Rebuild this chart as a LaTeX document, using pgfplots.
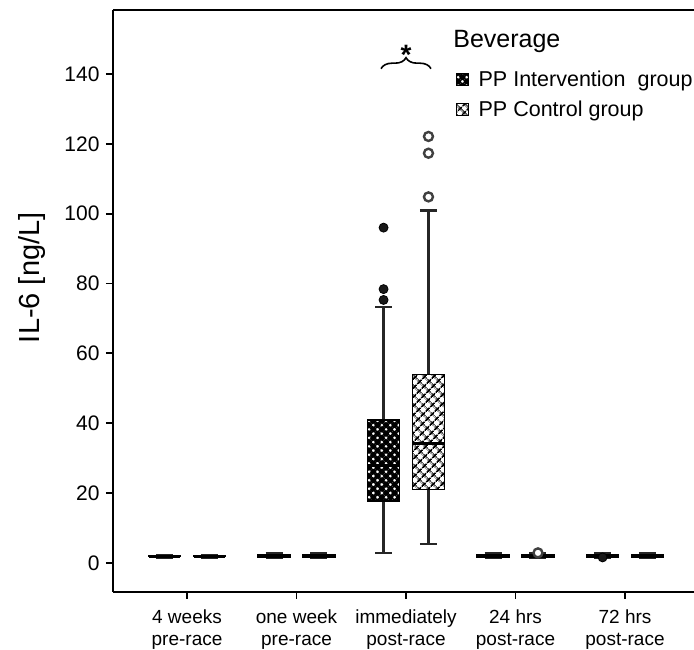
\documentclass[border=0pt]{standalone}
\usepackage{fontspec}
\setmainfont{Liberation Sans}
\usepackage{pgfplots}
\pgfplotsset{compat=1.18}
\usepgfplotslibrary{statistics}
\usetikzlibrary{patterns.meta, decorations.pathreplacing}

% hatched fills of the two beverage groups
\tikzset{
  intfill/.style={fill=white, postaction={pattern={Hatch[distance=6pt,angle=45,line width=3.6pt]}, pattern color=black}},
  ctlfill/.style={fill=white, postaction={pattern={Hatch[distance=6.5pt,angle=45,line width=1.7pt]}, pattern color=black}},
}
\pgfplotsset{
  boxplot/draw direction=y,
  intbp/.style={forget plot, black, solid, mark=*, mark size=4.5pt,
    mark options={fill=black!90, draw=black, line width=0.8pt},
    boxplot/draw direction=y,
    boxplot/box extend=0.29, boxplot/whisker extend=0.155,
    boxplot/every box/.style={draw=black, line width=1.5pt, intfill},
    boxplot/every median/.style={line width=3pt, black},
    boxplot/every whisker/.style={line width=2.2pt, black!85}},
  ctlbp/.style={forget plot, black, solid, mark=*, mark size=4.5pt,
    mark options={fill=white, draw=black!75, line width=2.4pt},
    boxplot/draw direction=y,
    boxplot/box extend=0.29, boxplot/whisker extend=0.155,
    boxplot/every box/.style={draw=black, line width=1.5pt, ctlfill},
    boxplot/every median/.style={line width=3pt, black},
    boxplot/every whisker/.style={line width=2.2pt, black!85}},
}

\begin{document}
\begin{tikzpicture}
\begin{axis}[
  name=ax, scale only axis, width=581pt, height=582pt,
  xmin=-0.676, xmax=4.63, ymin=-8.3, ymax=158.3,
  axis lines*=left, axis line style={line width=1.8pt},
  xtick={0,1,2,3,4},
  xticklabels={{4 weeks\\pre-race},{one week\\pre-race},{immediately\\post-race},{24 hrs\\post-race},{72 hrs\\post-race}},
  xticklabel style={align=center, font=\fontsize{19}{22.5}\selectfont, yshift=-7pt},
  ytick={0,20,...,140},
  yticklabel style={font=\fontsize{21}{25}\selectfont, xshift=-3pt},
  /pgf/number format/assume math mode=true,
  tick align=outside, major tick length=7pt, tick style={line width=1.8pt, black},
  ylabel={IL-6 [ng/L]},
  ylabel style={font=\fontsize{29}{33}\selectfont, at={(axis description cs:-0.139,0.54)}, anchor=center},
  clip=false,
  legend style={at={(axis cs:2.457,141.5)}, anchor=north west, draw=none, fill=none,
    font=\fontsize{21.5}{25}\selectfont, row sep=9pt, inner sep=0pt,
    nodes={inner xsep=0pt}},
  legend cell align=left,
]

% 4 weeks pre-race
\addplot[intbp, boxplot prepared={draw position=-0.205, lower whisker=1.6, lower quartile=1.8, median=2.0, upper quartile=2.2, upper whisker=2.4}] coordinates {};
\addplot[ctlbp, boxplot prepared={draw position=0.205, lower whisker=1.6, lower quartile=1.8, median=2.0, upper quartile=2.2, upper whisker=2.4}] coordinates {};
% one week pre-race
\addplot[intbp, boxplot prepared={draw position=0.795, lower whisker=1.4, lower quartile=1.7, median=2.0, upper quartile=2.4, upper whisker=2.8}] coordinates {};
\addplot[ctlbp, boxplot prepared={draw position=1.205, lower whisker=1.4, lower quartile=1.7, median=2.0, upper quartile=2.4, upper whisker=2.8}] coordinates {};
% immediately post-race
\addplot[intbp, boxplot prepared={draw position=1.795, lower whisker=2.9, lower quartile=17.8, median=28.0, upper quartile=40.9, upper whisker=73.2}] coordinates {(0,75.3) (0,78.4) (0,96.0)};
\addplot[ctlbp, boxplot prepared={draw position=2.205, lower whisker=5.4, lower quartile=21.1, median=34.1, upper quartile=54.0, upper whisker=100.9}] coordinates {(0,104.8) (0,117.3) (0,122.1)};
% 24 hrs post-race
\addplot[intbp, boxplot prepared={draw position=2.795, lower whisker=1.4, lower quartile=1.7, median=2.0, upper quartile=2.4, upper whisker=2.8}] coordinates {};
\addplot[ctlbp, boxplot prepared={draw position=3.205, lower whisker=1.4, lower quartile=1.7, median=2.0, upper quartile=2.4, upper whisker=2.8}] coordinates {(0,2.9)};
% 72 hrs post-race
\addplot[intbp, boxplot prepared={draw position=3.795, lower whisker=1.4, lower quartile=1.7, median=2.0, upper quartile=2.4, upper whisker=2.8}] coordinates {(0,1.6)};
\addplot[ctlbp, boxplot prepared={draw position=4.205, lower whisker=1.4, lower quartile=1.7, median=2.0, upper quartile=2.4, upper whisker=2.8}] coordinates {};

% legend swatches, padded so the text starts a little to their right
\addlegendimage{legend image code/.code={\draw[line width=0.8pt, intfill] (0pt,-6pt) rectangle (12pt,6pt); \path[draw=none, fill=none] (0pt,0pt) -- (22pt,0pt);}}
\addlegendentry{PP Intervention\ \ group}
\addlegendimage{legend image code/.code={\draw[line width=0.8pt, ctlfill] (0pt,-6pt) rectangle (12pt,6pt); \path[draw=none, fill=none] (0pt,0pt) -- (22pt,0pt);}}
\addlegendentry{PP Control group}

% frame line along the top
\draw[line width=1.8pt] (rel axis cs:0,1) -- (rel axis cs:1,1);
% significance bracket
\draw[line width=1.6pt, decorate, decoration={brace, amplitude=11pt}] (axis cs:1.772,141.5) -- (axis cs:2.228,141.5);
\node[anchor=base, font=\fontsize{28}{32}\selectfont\bfseries] at (axis cs:2.0,142.8) {*};
\node[anchor=west, font=\fontsize{25}{29}\selectfont] at (axis cs:2.40,149.2) {Beverage};
\end{axis}
\pgfresetboundingbox
\path[use as bounding box] ([shift={(-113pt,-58pt)}]ax.south west) rectangle ([shift={(0pt,10pt)}]ax.north east);
\end{tikzpicture}
\end{document}
